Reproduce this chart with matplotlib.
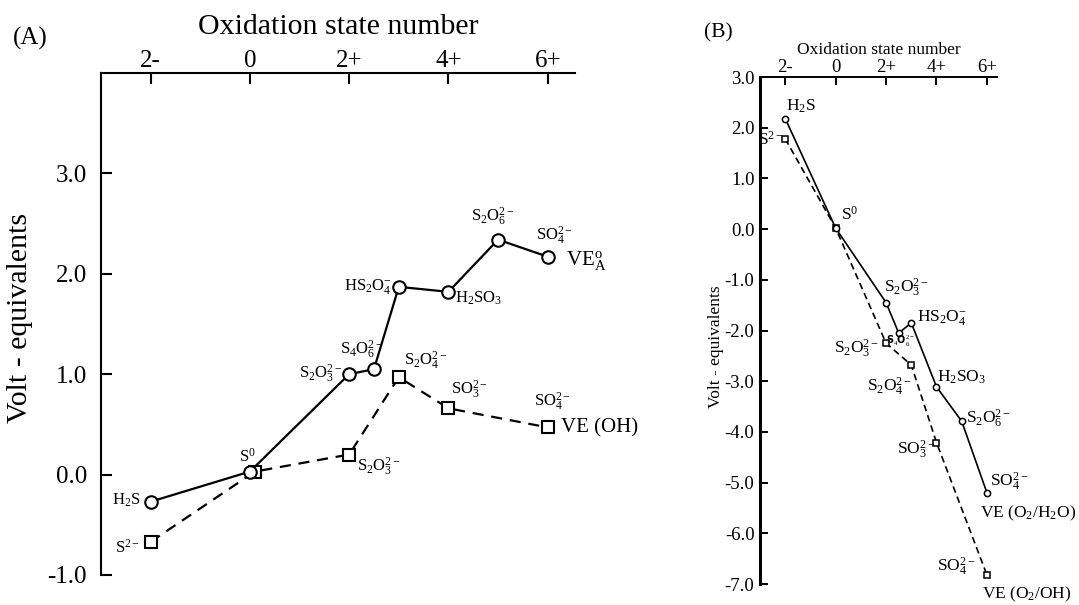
import matplotlib
matplotlib.use('Agg')
import matplotlib.pyplot as plt

plt.rcParams['font.family'] = ['Liberation Serif', 'DejaVu Serif']
plt.rcParams['mathtext.fontset'] = 'custom'
plt.rcParams['mathtext.rm'] = 'Liberation Serif'
plt.rcParams['mathtext.it'] = 'Liberation Serif:italic'
plt.rcParams['mathtext.bf'] = 'Liberation Serif:bold'

# oxidation state tick positions / labels (shared by both panels)
ox_ticks = [-2, 0, 2, 4, 6]
ox_labels = ['2-', '0', '2+', '4+', '6+']

# panel A: VE_A^o (circles, solid) and VE (OH) (squares, dashed)
ox_a_circ = [-2, 0, 2, 2.5, 3, 4, 5, 6]
ve_a_circ = [-0.27, 0.03, 1.0, 1.05, 1.87, 1.82, 2.34, 2.17]
lab_a_circ = [r'H$_2$S', r'S$^0$', r'S$_2$O$_3^{2-}$', r'S$_4$O$_6^{2-}$',
              r'HS$_2$O$_4^{-}$', r'H$_2$SO$_3$', r'S$_2$O$_6^{2-}$', r'SO$_4^{2-}$']
ox_a_sq = [-2, 0.1, 2, 3, 4, 6]
ve_a_sq = [-0.67, 0.03, 0.2, 0.97, 0.66, 0.47]
lab_a_sq = [r'S$^{2-}$', '', r'S$_2$O$_3^{2-}$', r'S$_2$O$_4^{2-}$',
            r'SO$_3^{2-}$', r'SO$_4^{2-}$']

# panel B: VE (O2/H2O) (circles, solid) and VE (O2/OH) (squares, dashed)
ox_b_circ = [-2, 0, 2, 2.5, 3, 4, 5, 6]
ve_b_circ = [2.18, 0.02, -1.45, -2.05, -1.85, -3.11, -3.79, -5.2]
lab_b_circ = [r'H$_2$S', r'S$^0$', r'S$_2$O$_3^{2-}$', '',
              r'HS$_2$O$_4^{-}$', r'H$_2$SO$_3$', r'S$_2$O$_6^{2-}$', r'SO$_4^{2-}$']
ox_b_sq = [-2, 0, 2, 3, 4, 6]
ve_b_sq = [1.78, 0.02, -2.25, -2.68, -4.21, -6.82]
lab_b_sq = [r'S$^{2-}$', '', r'S$_2$O$_3^{2-}$', r'S$_2$O$_4^{2-}$',
            r'SO$_3^{2-}$', r'SO$_4^{2-}$']

# label offsets (points) and alignment
off_a_circ = [(-7, 1, 'right'), (-2, 11, 'center'), (-5, 0, 'right'), (-9, 14, 'center'),
              (-5, 0, 'right'), (5, -4.5, 'left'), (-4, 16, 'center'), (5, 15, 'center')]
off_a_sq = [(-8, -4, 'right'), None, (6, -9, 'left'), (4, 12, 'left'),
            (1.5, 13, 'left'), (3.5, 18, 'center')]
off_b_circ = [(0.7, 8.5, 'left'), (3.6, 9.4, 'left'), (-1.4, 10.8, 'left'), None,
              (4.3, 3.6, 'left'), (0.7, 6.5, 'left'), (3, 2, 'left'), (2, 8, 'left')]
off_b_sq = [(-0.8, -0.5, 'right'), None, (-5, -4.3, 'right'), (0.7, -15.8, 'right'),
            (-0.7, -5, 'right'), (-8.6, 5.8, 'right')]

fig = plt.figure(figsize=(10.79, 6.05), dpi=100)


def style_axes(ax, spine_w, left_w, tick_size, tick_len, xpad):
    ax.spines['right'].set_visible(False)
    ax.spines['bottom'].set_visible(False)
    ax.spines['top'].set_linewidth(spine_w)
    ax.spines['left'].set_linewidth(left_w)
    ax.xaxis.tick_top()
    ax.xaxis.set_label_position('top')
    ax.set_xticks(ox_ticks)
    ax.set_xticklabels(ox_labels)
    ax.tick_params(axis='x', direction='in', length=tick_len, width=spine_w,
                   labelsize=tick_size, pad=xpad)
    ax.tick_params(axis='y', direction='in', length=tick_len, width=spine_w,
                   labelsize=tick_size)


def annotate(ax, xs, ys, labels, offsets, size):
    for x, y, t, off in zip(xs, ys, labels, offsets):
        if off is None or t == '':
            continue
        dx, dy, ha = off
        ax.annotate(t, (x, y), xytext=(dx, dy), textcoords='offset points',
                    ha=ha, va='center', fontsize=size, zorder=5)


# ---------------- panel A ----------------
axA = fig.add_axes([0.0936, 0.0496, 0.4393, 0.8298])
axA.plot(ox_a_circ, ve_a_circ, '-', color='black', lw=1.6, marker='o', ms=9,
         mfc='white', mec='black', mew=1.5, zorder=3)
axA.plot(ox_a_sq, ve_a_sq, color='black', lw=1.6, linestyle=(0, (5, 3.5)), marker='s',
         ms=9, mfc='white', mec='black', mew=1.5, zorder=2)
axA.set_xlim(-3, 6.55)
axA.set_ylim(-1, 4)
axA.set_yticks([-1, 0, 1, 2, 3])
axA.set_yticklabels(['-1.0', '0.0', '1.0', '2.0', '3.0'])
style_axes(axA, 1.5, 1.5, 18, 8, 1)
axA.tick_params(axis='y', pad=10)
axA.set_xlabel('Oxidation state number', fontsize=21.5, labelpad=11)
axA.set_ylabel('Volt - equivalents', fontsize=21.5)
axA.yaxis.set_label_coords(-0.143, 0.512)
annotate(axA, ox_a_circ, ve_a_circ, lab_a_circ, off_a_circ, 12)
annotate(axA, ox_a_sq, ve_a_sq, lab_a_sq, off_a_sq, 12)
axA.annotate(r'VE$_\mathrm{A}^\mathrm{o}$', (ox_a_circ[-1], ve_a_circ[-1]), xytext=(13, -3),
             textcoords='offset points', ha='left', va='center', fontsize=15)
axA.annotate('VE (OH)', (ox_a_sq[-1], ve_a_sq[-1]), xytext=(9.5, 0),
             textcoords='offset points', ha='left', va='center', fontsize=15)
fig.text(30 / 1079, 1 - 38 / 605, '(A)', ha='center', va='center', fontsize=18)

# ---------------- panel B ----------------
axB = fig.add_axes([0.7044, 0.0347, 0.2196, 0.838])
axB.plot(ox_b_circ, ve_b_circ, '-', color='black', lw=1.2, marker='o', ms=4.5,
         mfc='white', mec='black', mew=1.1, zorder=3)
axB.plot(ox_b_sq, ve_b_sq, color='black', lw=1.2, linestyle=(0, (4, 2.5)), marker='s',
         ms=4.5, mfc='white', mec='black', mew=1.1, zorder=2)
axB.set_xlim(-3, 6.4)
axB.set_ylim(-7, 3)
yt_b = [3, 2, 1, 0, -1, -2, -3, -4, -5, -6, -7]
axB.set_yticks(yt_b)
axB.set_yticklabels(['%.1f' % v for v in yt_b])
style_axes(axB, 1.4, 2.2, 13.5, 6, 0.5)
axB.tick_params(axis='y', pad=4)
axB.set_xlabel('Oxidation state number', fontsize=12.5, labelpad=4)
axB.set_ylabel('Volt - equivalents', fontsize=12.5)
axB.yaxis.set_label_coords(-0.152, 0.469)
annotate(axB, ox_b_circ, ve_b_circ, lab_b_circ, off_b_circ, 12.5)
annotate(axB, ox_b_sq, ve_b_sq, lab_b_sq, off_b_sq, 12.5)
axB.annotate(r'S$_4$O$_6^{2-}$', (ox_b_circ[3], ve_b_circ[3]), xytext=(1.5, -6),
             textcoords='offset points', ha='center', va='center', fontsize=7,
             family='DejaVu Sans', fontweight='bold')
axB.annotate(r'VE (O$_2$/H$_2$O)', (ox_b_circ[-1], ve_b_circ[-1]), xytext=(-5, -15),
             textcoords='offset points', ha='left', va='center', fontsize=12.5)
axB.annotate(r'VE (O$_2$/OH)', (ox_b_sq[-1], ve_b_sq[-1]), xytext=(-3.6, -13.7),
             textcoords='offset points', ha='left', va='center', fontsize=12.5)
fig.text(718 / 1079, 1 - 33 / 605, '(B)', ha='center', va='center', fontsize=15.5)

fig.savefig('out.png', dpi=100)
